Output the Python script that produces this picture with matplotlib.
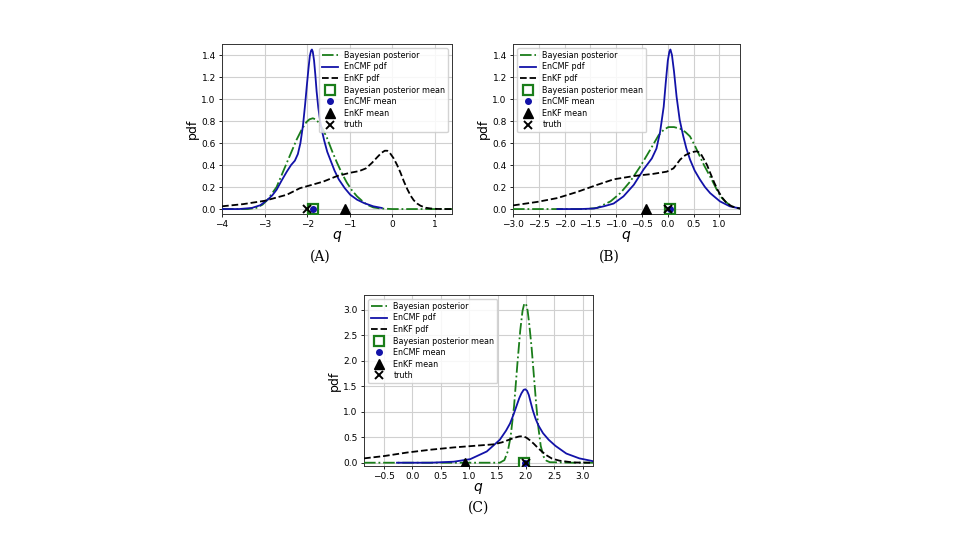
import matplotlib
matplotlib.use('Agg')
import matplotlib.pyplot as plt

# ---- panel A data ----
a_bayes_x = [-4.0, -3.4, -3.2, -3.05, -2.93, -2.72, -2.48, -2.25, -2.12, -2.02, -1.95, -1.87, -1.80,
             -1.74, -1.64, -1.54, -1.42, -1.30, -1.18, -1.07, -0.95, -0.83, -0.70, -0.60, -0.45,
             -0.28, 0.0, 0.5, 1.0, 1.4]
a_bayes_y = [0.0, 0.0, 0.01, 0.04, 0.085, 0.20, 0.42, 0.63, 0.73, 0.79, 0.815, 0.825, 0.815,
             0.79, 0.73, 0.65, 0.53, 0.42, 0.32, 0.24, 0.17, 0.115, 0.07, 0.04, 0.015,
             0.005, 0.0, 0.0, 0.0, 0.0]
a_encmf_x = [-4.0, -3.6, -3.3, -3.1, -2.93, -2.82, -2.72, -2.6, -2.48, -2.38, -2.29, -2.22, -2.16,
             -2.10, -2.05, -2.01, -1.97, -1.94, -1.91, -1.89, -1.87, -1.84, -1.81, -1.78, -1.74,
             -1.70, -1.66, -1.60, -1.53, -1.46, -1.36, -1.26, -1.12, -0.99, -0.83, -0.67, -0.45,
             -0.25]
a_encmf_y = [0.0, 0.0, 0.01, 0.035, 0.085, 0.125, 0.175, 0.26, 0.34, 0.40, 0.44, 0.50, 0.60,
             0.76, 0.95, 1.12, 1.28, 1.39, 1.44, 1.45, 1.43, 1.35, 1.22, 1.07, 0.92,
             0.81, 0.72, 0.62, 0.52, 0.45, 0.35, 0.27, 0.19, 0.13, 0.085, 0.055, 0.025,
             0.01]
a_enkf_x = [-4.0, -3.5, -3.0, -2.48, -2.17, -1.89, -1.62, -1.30, -0.99, -0.78, -0.62, -0.48,
            -0.36, -0.26, -0.18, -0.12, -0.06, 0.03, 0.11, 0.19, 0.27, 0.35, 0.43, 0.50, 0.58,
            0.66, 0.78, 0.90, 1.05, 1.21, 1.4]
a_enkf_y = [0.025, 0.045, 0.075, 0.13, 0.19, 0.22, 0.25, 0.30, 0.33, 0.345, 0.37, 0.42,
            0.47, 0.51, 0.53, 0.53, 0.51, 0.46, 0.40, 0.33, 0.25, 0.18, 0.12, 0.08, 0.05,
            0.03, 0.012, 0.005, 0.001, 0.0, 0.0]
a_bayes_mean, a_encmf_mean, a_enkf_mean, a_truth = -1.87, -1.87, -1.12, -2.0

# ---- panel B data ----
b_bayes_x = [-3.0, -2.0, -1.6, -1.37, -1.11, -0.92, -0.73, -0.53, -0.34, -0.18, -0.08, 0.01, 0.12,
             0.24, 0.34, 0.43, 0.52, 0.62, 0.70, 0.78, 0.87, 0.95, 1.03, 1.11, 1.19, 1.27, 1.4]
b_bayes_y = [0.0, 0.0, 0.0, 0.01, 0.07, 0.145, 0.25, 0.39, 0.54, 0.67, 0.72, 0.745, 0.745,
             0.73, 0.70, 0.66, 0.58, 0.48, 0.40, 0.33, 0.25, 0.175, 0.11, 0.07, 0.04, 0.02, 0.005]
b_encmf_x = [-2.14, -1.7, -1.43, -1.24, -1.05, -0.86, -0.66, -0.47, -0.31, -0.22, -0.15, -0.08,
             -0.04, 0.0, 0.03, 0.05, 0.08, 0.12, 0.17, 0.23, 0.30, 0.36, 0.43, 0.52, 0.62, 0.72,
             0.82, 1.01, 1.20, 1.4]
b_encmf_y = [0.0, 0.0, 0.005, 0.025, 0.05, 0.115, 0.22, 0.36, 0.46, 0.55, 0.70, 0.93,
             1.15, 1.35, 1.43, 1.45, 1.40, 1.25, 1.02, 0.81, 0.66, 0.55, 0.45, 0.35, 0.27, 0.20,
             0.145, 0.07, 0.025, 0.005]
b_enkf_x = [-3.0, -2.53, -2.14, -1.76, -1.37, -1.05, -0.66, -0.28, -0.02, 0.11, 0.24, 0.34,
            0.43, 0.50, 0.56, 0.63, 0.69, 0.76, 0.82, 0.90, 0.98, 1.06, 1.14, 1.24, 1.33, 1.4]
b_enkf_y = [0.033, 0.065, 0.10, 0.155, 0.22, 0.27, 0.30, 0.32, 0.34, 0.37, 0.45, 0.49,
            0.51, 0.52, 0.525, 0.51, 0.46, 0.40, 0.33, 0.24, 0.16, 0.10, 0.055, 0.025, 0.01, 0.005]
b_bayes_mean, b_encmf_mean, b_enkf_mean, b_truth = 0.045, 0.04, -0.42, 0.01

# ---- panel C data ----
c_bayes_x = [-0.85, 0.5, 1.2, 1.54, 1.62, 1.68, 1.73, 1.79, 1.85, 1.90, 1.94, 1.97, 2.00, 2.03,
             2.06, 2.10, 2.14, 2.18, 2.22, 2.26, 2.31, 2.36, 2.42, 2.8, 3.18]
c_bayes_y = [0.0, 0.0, 0.0, 0.0, 0.05, 0.22, 0.51, 1.10, 1.95, 2.60, 2.98, 3.12, 3.12, 2.98,
             2.70, 2.25, 1.70, 1.15, 0.68, 0.33, 0.12, 0.04, 0.01, 0.0, 0.0]
c_encmf_x = [-0.27, 0.32, 0.73, 1.02, 1.31, 1.54, 1.65, 1.72, 1.78, 1.83, 1.88, 1.92, 1.96, 1.99,
             2.02, 2.05, 2.08, 2.12, 2.17, 2.22, 2.30, 2.40, 2.52, 2.71, 2.94, 3.18]
c_encmf_y = [0.0, 0.0, 0.02, 0.07, 0.22, 0.45, 0.63, 0.77, 0.94, 1.10, 1.26, 1.36, 1.43, 1.44,
             1.41, 1.33, 1.20, 1.03, 0.86, 0.73, 0.58, 0.45, 0.33, 0.18, 0.085, 0.03]
c_enkf_x = [-0.85, -0.5, -0.09, 0.32, 0.73, 1.08, 1.43, 1.58, 1.70, 1.80, 1.88, 1.95, 2.01, 2.07,
            2.14, 2.21, 2.29, 2.37, 2.46, 2.59, 2.83, 3.18]
c_enkf_y = [0.085, 0.13, 0.20, 0.255, 0.30, 0.33, 0.36, 0.40, 0.45, 0.49, 0.515, 0.52, 0.49, 0.44,
            0.37, 0.29, 0.21, 0.14, 0.08, 0.04, 0.005, 0.0]
c_bayes_mean, c_encmf_mean, c_enkf_mean, c_truth = 1.97, 1.98, 0.93, 2.0

green = '#1a7d1a'
blue = '#1212a8'

fig = plt.figure(figsize=(9.6, 5.4), dpi=100)
ax_a = fig.add_axes([0.2313, 0.6037, 0.2396, 0.3148])
ax_b = fig.add_axes([0.5344, 0.6037, 0.2365, 0.3148])
ax_c = fig.add_axes([0.3792, 0.1370, 0.2385, 0.3167])


def draw_panel(ax, bx, by, ex, ey, kx, ky, bm, em, km, tr, loc):
    ax.plot(bx, by, '-.', color=green, lw=1.3, label='Bayesian posterior', zorder=3)
    ax.plot(ex, ey, '-', color=blue, lw=1.3, label='EnCMF pdf', zorder=3)
    ax.plot(kx, ky, '--', color='black', lw=1.3, label='EnKF pdf', zorder=3)
    ax.plot([bm], [0], 's', ms=7, mfc='white', mec=green, mew=1.6,
            label='Bayesian posterior mean', zorder=4)
    ax.plot([em], [0], 'o', ms=4, color=blue, label='EnCMF mean', zorder=5)
    ax.plot([km], [0], '^', ms=6.5, color='black', label='EnKF mean', zorder=5)
    ax.plot([tr], [0], 'x', ms=5.5, mew=1.4, color='black', label='truth', zorder=6)
    ax.grid(True, color='#d0d0d0', lw=0.8)
    ax.set_axisbelow(True)
    ax.tick_params(labelsize=6.5, length=2.5, width=0.6, pad=2)
    for s in ax.spines.values():
        s.set_linewidth(0.7)
        s.set_color('#333333')
    ax.set_xlabel('$q$', fontsize=10, labelpad=0)
    ax.set_ylabel('pdf', fontsize=9, labelpad=2)
    ax.legend(loc=loc, fontsize=5.8, handlelength=2.0, labelspacing=0.32,
              borderpad=0.35, handletextpad=0.8, framealpha=0.85)


draw_panel(ax_a, a_bayes_x, a_bayes_y, a_encmf_x, a_encmf_y, a_enkf_x, a_enkf_y,
           a_bayes_mean, a_encmf_mean, a_enkf_mean, a_truth, 'upper right')
ax_a.set_xlim(-4, 1.4)
ax_a.set_ylim(-0.045, 1.5)
ax_a.set_yticks([0.0, 0.2, 0.4, 0.6, 0.8, 1.0, 1.2, 1.4])

draw_panel(ax_b, b_bayes_x, b_bayes_y, b_encmf_x, b_encmf_y, b_enkf_x, b_enkf_y,
           b_bayes_mean, b_encmf_mean, b_enkf_mean, b_truth, 'upper left')
ax_b.set_xlim(-3, 1.4)
ax_b.set_ylim(-0.045, 1.5)
ax_b.set_xticks([-3.0, -2.5, -2.0, -1.5, -1.0, -0.5, 0.0, 0.5, 1.0])
ax_b.set_yticks([0.0, 0.2, 0.4, 0.6, 0.8, 1.0, 1.2, 1.4])

draw_panel(ax_c, c_bayes_x, c_bayes_y, c_encmf_x, c_encmf_y, c_enkf_x, c_enkf_y,
           c_bayes_mean, c_encmf_mean, c_enkf_mean, c_truth, 'upper left')
ax_c.set_xlim(-0.85, 3.18)
ax_c.set_ylim(-0.065, 3.29)
ax_c.set_xticks([-0.5, 0.0, 0.5, 1.0, 1.5, 2.0, 2.5, 3.0])

serif = ['DejaVu Serif']
fig.text(320 / 960, 1 - 257 / 540, '(A)', ha='center', va='center', fontsize=10, family=serif)
fig.text(609 / 960, 1 - 257 / 540, '(B)', ha='center', va='center', fontsize=10, family=serif)
fig.text(479 / 960, 1 - 508 / 540, '(C)', ha='center', va='center', fontsize=10, family=serif)

fig.savefig('out.png', dpi=100)
